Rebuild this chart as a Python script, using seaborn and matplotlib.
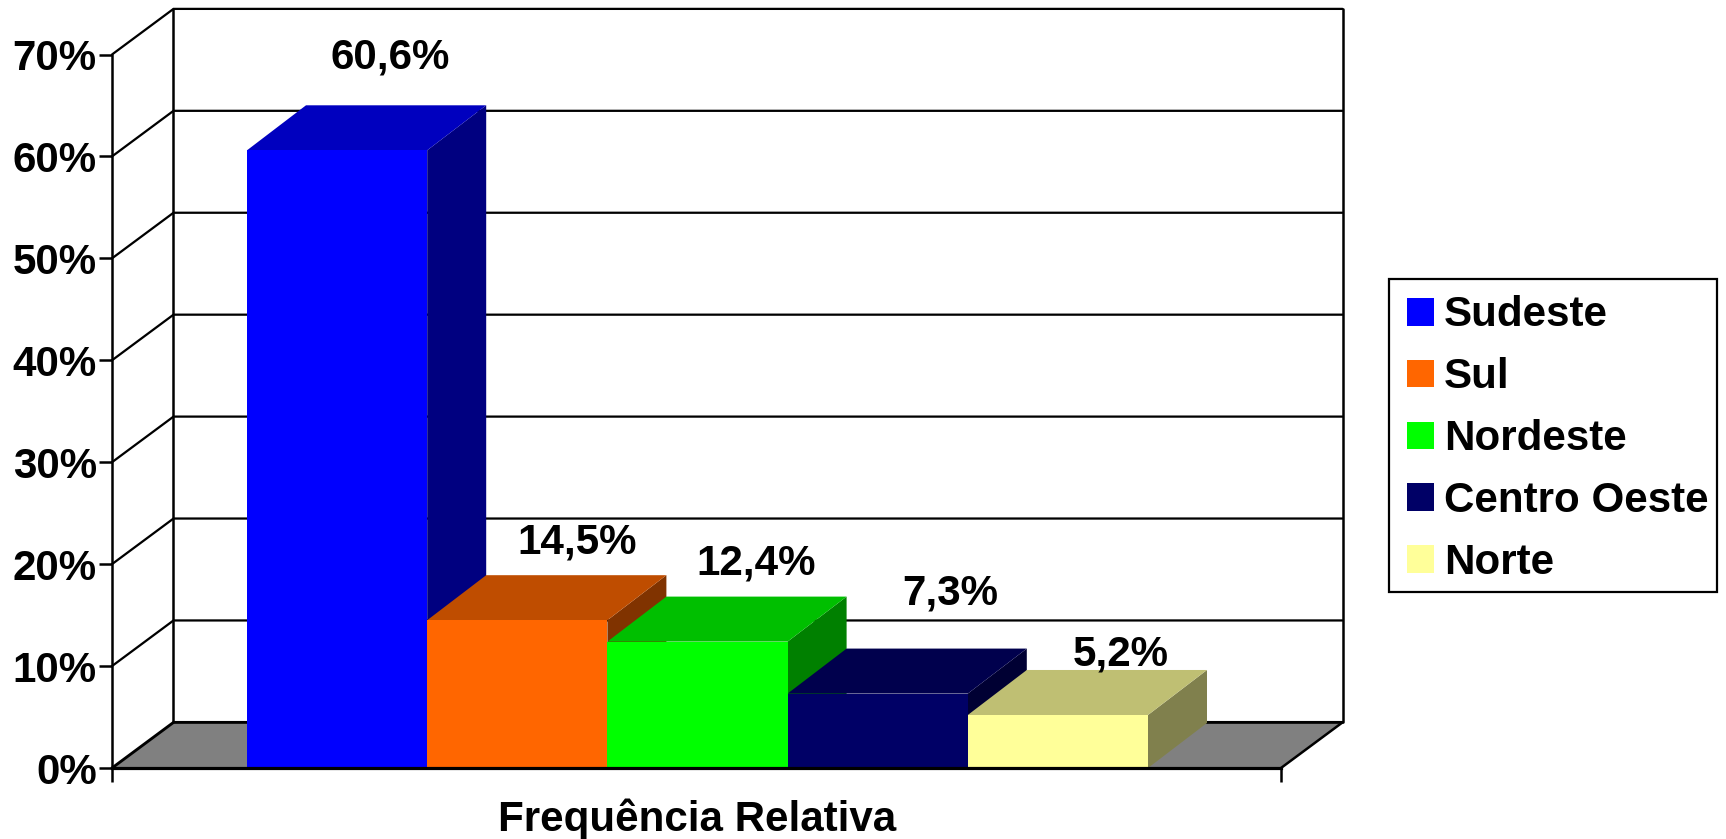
import matplotlib
matplotlib.use("Agg")
import matplotlib.pyplot as plt
from matplotlib.colors import to_rgb
from matplotlib.patches import Polygon, Patch, Rectangle
import pandas as pd
import seaborn as sns

regioes = ["Sudeste", "Sul", "Nordeste", "Centro Oeste", "Norte"]
frequencias = [60.6, 14.5, 12.4, 7.3, 5.2]
rotulos = ["60,6%", "14,5%", "12,4%", "7,3%", "5,2%"]
cores = ["#0000FF", "#FF6600", "#00FF00", "#000066", "#FFFF99"]
y_ticks = [0, 10, 20, 30, 40, 50, 60, 70]
y_tick_labels = ["0%", "10%", "20%", "30%", "40%", "50%", "60%", "70%"]
x_title = "Frequência Relativa"

W, H = 1726, 839
sns.set_style("white")
plt.rcParams["font.family"] = ["Liberation Sans", "DejaVu Sans"]
plt.rcParams["font.weight"] = "bold"
plt.rcParams["text.color"] = "black"
plt.rcParams["axes.labelcolor"] = "black"
plt.rcParams["xtick.color"] = "black"
plt.rcParams["ytick.color"] = "black"
FS = 30.3

fig = plt.figure(figsize=(W / 100, H / 100), dpi=100, facecolor="white")
ax = fig.add_axes([112 / W, (H - 768) / H, (1281 - 112) / W, (768 - 54.5) / H])
ax.patch.set_alpha(0)

df = pd.DataFrame({"regiao": regioes, "freq": frequencias})
sns.barplot(data=df, x="regiao", y="freq", hue="regiao", hue_order=regioes,
            order=regioes, palette=cores, width=1, dodge=False, legend=False,
            linewidth=0, saturation=1, ax=ax, zorder=5)
bars = sorted([p for p in ax.patches if isinstance(p, Rectangle) and p.get_height() > 0],
              key=lambda b: b.get_x())

PX = 180.2
x0, x1 = -0.5 - 135 / PX, 4.5 + 133 / PX
ax.set_xlim(x0, x1)
ax.set_ylim(0, 70)
wall_dx, wall_dy = 61.5 / PX, 45.6 / 10.19
bar_dx, bar_dy = 59 / PX, 45 / 10.19

# Floor and walls
ax.add_patch(Polygon([(x0, 0), (x1, 0), (x1 + wall_dx, wall_dy), (x0 + wall_dx, wall_dy)],
                     closed=True, fc="#808080", ec="none", clip_on=False, zorder=1))
LW = 1.8
for t in y_ticks:
    lw = LW * 1.15 if t == 0 else LW * 0.9
    ax.plot([x0, x0 + wall_dx, x1 + wall_dx], [t, t + wall_dy, t + wall_dy],
            color="black", lw=lw, clip_on=False, zorder=2, solid_joinstyle="miter")
ax.plot([x1, x1 + wall_dx], [0, wall_dy], color="black", lw=LW, clip_on=False, zorder=2)
for xx in (x0 + wall_dx, x1 + wall_dx):
    ax.plot([xx, xx], [wall_dy, 70 + wall_dy], color="black", lw=LW, clip_on=False, zorder=2)

# 3D faces of each bar, from the bars seaborn drew
for i, b in enumerate(bars):
    l, r, h = b.get_x(), b.get_x() + b.get_width(), b.get_height()
    c = to_rgb(b.get_facecolor()[:3])
    top = tuple(v * 0.75 for v in c)
    side = tuple(v * 0.5 for v in c)
    z = 3 + i * 0.1
    ax.add_patch(Polygon([(r, 0), (r + bar_dx, bar_dy), (r + bar_dx, h + bar_dy), (r, h)],
                         closed=True, fc=side, ec="none", clip_on=False, zorder=z))
    ax.add_patch(Polygon([(l, h), (r, h), (r + bar_dx, h + bar_dy), (l + bar_dx, h + bar_dy)],
                         closed=True, fc=top, ec="none", clip_on=False, zorder=z + 0.05))

# Data labels, placed by hand in the original
label_off = [(53, 93), (60, 78), (59, 78), (73, 100), (63, 60)]
for b, txt, (ox, oy) in zip(bars, rotulos, label_off):
    ax.annotate(txt, (b.get_x() + b.get_width() / 2, b.get_height()),
                xytext=(ox * 0.72, oy * 0.72), textcoords="offset points",
                ha="center", va="center", fontsize=FS, fontweight="bold",
                color="black", zorder=10, annotation_clip=False)

# Axes
sns.despine(ax=ax, top=True, right=True)
for s in ("left", "bottom"):
    ax.spines[s].set_color("black")
    ax.spines[s].set_zorder(8)
ax.spines["left"].set_linewidth(LW)
ax.spines["bottom"].set_linewidth(2.3)
ax.set_yticks(y_ticks, y_tick_labels)
ax.set_xticks([x0, x1], ["", ""])
ax.tick_params(axis="y", left=True, length=9.5, width=LW, pad=1.5, labelsize=FS, color="black")
ax.tick_params(axis="x", bottom=True, length=10, width=LW, color="black")
for t in ax.get_yticklabels():
    t.set_fontweight("bold")
ax.set_ylabel("")
ax.set_xlabel(x_title, fontsize=FS, fontweight="bold", labelpad=0)
ax.xaxis.set_label_coords((697 - 112) / (1281 - 112), -(831 - 768) / (768 - 54.5), transform=ax.transAxes)
ax.xaxis.label.set_verticalalignment("baseline")

# Legend: frame drawn separately so that the inner margins can differ
fig.add_artist(Rectangle((1389 / W, (H - 592) / H), (1717 - 1389) / W, (592 - 279) / H,
                         transform=fig.transFigure, fc="white", ec="black", lw=1.6, zorder=9))
handles = [Patch(fc=c, ec="none", label=n) for n, c in zip(regioes, cores)]
leg = fig.legend(handles=handles, loc="upper left",
                 bbox_to_anchor=(1407 / W, (H - 295.5) / H), bbox_transform=fig.transFigure,
                 fontsize=FS, frameon=False, borderaxespad=0, borderpad=0, labelspacing=0.52,
                 handlelength=0.64, handleheight=0.64, handletextpad=0.24)
leg.set_zorder(10)

fig.savefig("out.png", dpi=100, facecolor="white")
